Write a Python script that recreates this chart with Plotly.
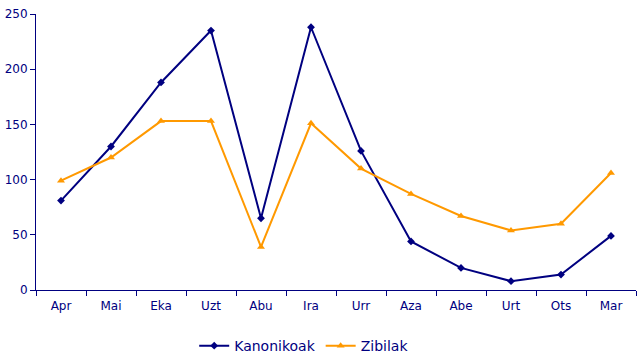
import plotly.graph_objects as go

months = ["Apr", "Mai", "Eka", "Uzt", "Abu", "Ira", "Urr", "Aza", "Abe", "Urt", "Ots", "Mar"]
kanonikoak = [81, 130, 188, 235, 65, 238, 126, 44, 20, 8, 14, 49]
zibilak = [99, 120, 153, 153, 39, 151, 110, 87, 67, 54, 60, 106]

navy = "#000080"
orange = "#FF9900"

fig = go.Figure()
fig.add_trace(go.Scatter(x=months, y=kanonikoak, name="Kanonikoak", mode="lines+markers",
                         line=dict(color=navy, width=2),
                         marker=dict(symbol="diamond", size=6, color=navy)))
fig.add_trace(go.Scatter(x=months, y=zibilak, name="Zibilak", mode="lines+markers",
                         line=dict(color=orange, width=2),
                         marker=dict(symbol="triangle-up", size=7, color=orange)))

fig.update_layout(
    width=643, height=364,
    margin=dict(l=36, r=7, t=14, b=74, autoexpand=False),
    plot_bgcolor="white", paper_bgcolor="white",
    font=dict(family="DejaVu Sans", size=12, color=navy),
    showlegend=True,
    legend=dict(orientation="h", x=0.447, xanchor="center", y=-0.203, yanchor="middle",
                font=dict(size=14, color=navy), tracegroupgap=0),
    xaxis=dict(type="category", range=[-0.5, 11.5], showgrid=False, showline=True,
               linecolor=navy, linewidth=1, ticks="outside", ticklen=5, tickcolor=navy,
               tickson="boundaries", tickfont=dict(color=navy, size=12), automargin=False,
               ticklabelstandoff=5),
    yaxis=dict(range=[0, 250], dtick=50, showgrid=False, showline=True, linecolor=navy,
               linewidth=1, ticks="outside", ticklen=5, tickcolor=navy, zeroline=False,
               tickfont=dict(color=navy, size=12), automargin=False),
)

fig.write_html("out.html", config={"displayModeBar": False},
               post_script="document.body.style.margin='0';")
